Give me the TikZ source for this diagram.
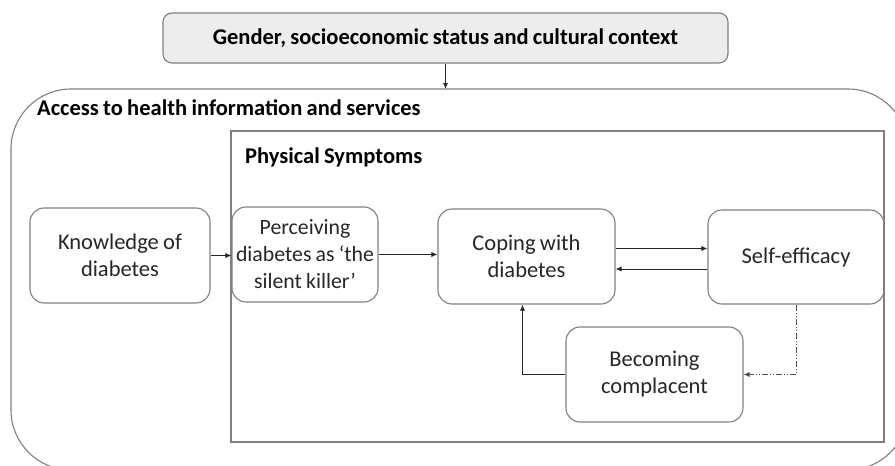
\documentclass[tikz,border=0pt]{standalone}
\usepackage{fontspec}
\setmainfont{Carlito}[WordSpace=0.85]
\usepackage{tikz}
\usetikzlibrary{shapes,arrows,arrows.meta,positioning,calc}
\definecolor{boxline}{HTML}{7F7F7F}
\definecolor{topfill}{HTML}{EDEDED}
\definecolor{txt}{HTML}{262626}
\tikzset{stage/.style={
    draw=boxline,
    rectangle,
    rounded corners=14pt,
    line width=1.1pt,
    text=txt,
    align=center,
    font=\fontsize{22.5}{27}\selectfont,
    inner sep=0pt,
  }}
\begin{document}
\begin{tikzpicture}[x=1pt,y=-1pt,
        flow/.style={-{Latex[length=6pt,width=5pt]},line width=0.8pt,black!85},
        dashflow/.style={-{Latex[length=6pt,width=5pt]},line width=0.8pt,black!70,
          dash pattern=on 6pt off 2pt on 1pt off 2pt on 1pt off 2pt},
        heading/.style={anchor=west,inner sep=0pt,text=black,
          font=\fontsize{22.5}{25}\selectfont\bfseries}
        ]
        \useasboundingbox (0,0) rectangle (895,466);
        \clip (0,0) rectangle (895,466);

        % Outer frames
        \draw [boxline,line width=1.1pt,rounded corners=60pt] (11,89) rectangle (908,470);
        \draw [boxline,line width=1.1pt] (231,131) rectangle (884,442);
        \node (access) [heading] at (37,108) {Access to health information and services};
        \node (physical) [heading] at (245,157) {Physical Symptoms};

        % Context box
        \node (context) [stage, fill=topfill, minimum width=565pt, minimum height=50pt,
          rounded corners=9pt,
          font=\fontsize{22.5}{25}\selectfont\bfseries, text=black] at (445.5,38)
          {Gender, socioeconomic status and cultural context};
        \coordinate (entry) at (context.south |- 0,89);

        % Stages
        \node (knowledge) [stage, minimum width=180pt, minimum height=95pt] at (120,255.5)
          {Knowledge of\\ diabetes};
        \node (perceiving) [stage, minimum width=146pt, minimum height=95pt,
          font=\fontsize{21.8}{27}\selectfont] at (305,254.5)
          {Perceiving\\ diabetes as `the\\ silent killer'};
        \node (coping) [stage, minimum width=177pt, minimum height=95pt] at (526.5,256.5)
          {Coping with\\ diabetes};
        \node (efficacy) [stage, minimum width=176pt, minimum height=94pt] at (796,257)
          {Self-efficacy};
        \node (complacent) [stage, minimum width=177pt, minimum height=95pt] at (654.5,374.5)
          {Becoming\\ complacent};

        \draw [flow] (context.south) -- (entry);
        \draw [flow] (knowledge.east) -- (knowledge.east -| perceiving.west);
        \draw [flow] (perceiving.east) -- (perceiving.east -| coping.west);
        \draw [flow] ([yshift=8pt]coping.east) -- ([yshift=8pt]coping.east -| efficacy.west);
        \draw [flow] ([yshift=-12pt]efficacy.west) -- ([yshift=-12pt]efficacy.west -| coping.east);
        \draw [dashflow] (efficacy.south) |- (complacent.east);
        \draw [flow] (complacent.west) -| ([xshift=-4pt]coping.south);

      \end{tikzpicture}
\end{document}
